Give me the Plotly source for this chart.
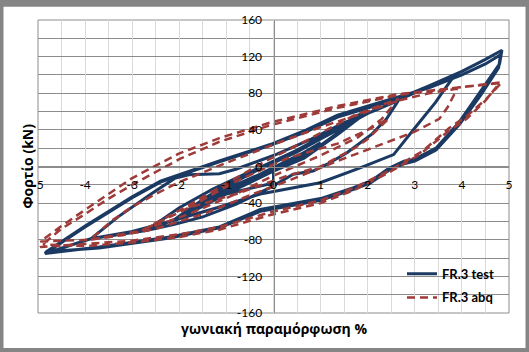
import plotly.graph_objects as go

# ---------------- data ----------------
# FR.3 test : successive cycles, each = up branch (neg peak -> pos peak) + down branch
test_start_x = [0.0, 0.0]
test_start_y = [-3, -18]

test_c1_x = [-1.0, -0.6, -0.2, 0.2, 0.6, 1.0, 0.6, 0.2, -0.2, -0.6, -1.0]
test_c1_y = [-30, -17, -6, 4, 14, 26, 12, 0, -10, -20, -30]

test_c2_x = [-2.08, -1.5, -1.0, -0.5, 0.0, 0.5, 1.0, 1.5, 2.0, 1.36, 0.65, 0.0, -0.8, -1.5, -2.08]
test_c2_y = [-59, -38, -22, -8, 4, 16, 30, 45, 60, 35, 9, -5, -23, -40, -59]

test_c2b_x = [-2.08, -1.5, -1.0, -0.5, 0.0, 0.5, 1.0, 1.5, 2.0, 1.4, 0.7, 0.0, -0.8, -1.5, -2.05]
test_c2b_y = [-57, -36, -20, -6, 6, 18, 32, 47, 62, 38, 12, -2, -20, -38, -57]

test_c3_x = [-2.7, -2.0, -1.3, -0.6, 0.0, 0.7, 1.36, 2.0, 2.65,
             2.4, 2.08, 1.56, 1.14, 0.84, 0.42, -0.07, -0.79, -1.5, -2.1, -2.7]
test_c3_y = [-70, -45, -25, -8, 5, 22, 40, 58, 72,
             52, 35, 15, 2.5, -5, -8.4, -23, -41, -55, -63, -70]

test_c4_x = [-3.88, -3.3, -2.6, -2.1, -1.8, -1.15, -0.8, 0.0, 0.8, 1.5, 2.2, 2.8, 3.4, 3.85,
             3.6, 3.44, 3.0, 2.55, 1.84, 0.99, -0.28, -1.2, -2.2, -3.0, -3.88]
test_c4_y = [-79, -55, -30, -13, -9, -8, -3, 12, 30, 48, 62, 76, 90, 100,
             82, 70, 42, 13, -1.5, -17.7, -30, -45, -60, -71, -79]

test_c5_x = [-4.85, -4.0, -3.0, -2.4, -2.0, -1.15, -0.07, 0.7, 1.36, 2.0, 2.65, 3.3, 4.0, 4.5, 4.85,
             4.8, 4.4, 3.95, 3.45, 3.0, 2.77, 2.45, 2.06, 1.7, 1.0, -0.28, -1.15, -2.2, -3.7, -4.85]
test_c5_y = [-95, -66, -34, -17, -10, 5, 23, 38, 54, 64, 74, 88, 104, 117, 127,
             112, 82, 49, 20, 8, 5.7, -2, -16, -23, -35, -47, -66, -77, -88, -95]

test_c5b_x = [-4.82, -4.0, -3.0, -2.4, -2.0, -1.15, -0.07, 0.7, 1.36, 2.0, 2.65, 3.3, 4.0, 4.5, 4.82,
              4.78, 4.4, 3.95, 3.45, 3.0, 2.77, 2.45, 2.06, 1.7, 1.0, -0.28, -1.15, -2.2, -3.7, -4.82]
test_c5b_y = [-93, -65, -33, -16, -9, 6, 24, 40, 56, 66, 76, 86, 100, 112, 122,
              108, 78, 46, 18, 6, 3, -4, -18, -25, -37, -49, -67, -78, -89, -93]

# FR.3 abq
abq_c2_x = [-1.8, -0.79, 0.29, 1.36, 2.0, 2.44, 2.0, 1.72, 1.0, 0.3, -0.79, -1.3, -1.8]
abq_c2_y = [-45, -16, 9, 25, 40, 52, 30, 20, 0, -10, -30, -38, -45]

abq_c3_x = [-2.8, -2.0, -1.15, -0.2, 0.65, 1.72, 2.65, 2.3, 1.8, 1.0, 0.0, -0.8, -1.8, -2.8]
abq_c3_y = [-70, -48, -23, 5, 27, 56, 74, 52, 32, 12, -10, -30, -52, -70]

abq_c4_x = [-3.9, -3.4, -3.0, -2.5, -2.0, -1.0, 0.0, 1.0, 2.0, 2.65, 3.3, 3.9,
            3.7, 3.52, 3.0, 2.44, 1.36, 0.29, -0.43, -1.5, -2.5, -3.2, -3.9]
abq_c4_y = [-80, -58, -44, -30, -17, 4, 24, 43, 60, 72, 80, 85,
            65, 52, 38, 27, 6, -16, -30, -52, -68, -75, -80]

abq_c5_x = [-4.95, -4.5, -4.02, -3.5, -3.01, -2.5, -2.01, -1.15, -0.07, 1.36, 2.65, 3.88, 4.85,
            4.52, 4.1, 3.73, 3.16, 2.44, 1.72, 1.0, -0.07, -1.15, -2.0, -3.0, -4.0, -4.95]
abq_c5_y = [-82, -65, -48, -30, -13, 1, 14, 31, 48, 66, 79, 86, 92,
            74, 55, 42, 16.5, -5, -23, -37, -50, -66, -74, -81, -85, -88]

abq_c5b_x = [-4.9, -4.5, -4.0, -3.5, -3.0, -2.5, -2.0, -1.15, -0.07, 1.36, 2.65, 3.88, 4.8,
             4.5, 4.1, 3.7, 3.1, 2.4, 1.7, 1.0, -0.07, -1.15, -2.0, -3.0, -4.0, -4.9]
abq_c5b_y = [-85, -68, -52, -35, -20, -6, 8, 27, 45, 64, 78, 86, 91,
             72, 52, 38, 13, -8, -26, -40, -53, -69, -77, -83, -87, -85]

x_ticks = [-5, -4, -3, -2, -1, 0, 1, 2, 3, 4, 5]
y_ticks = [-160, -120, -80, -40, 0, 40, 80, 120, 160]

series_names = ["FR.3 test", "FR.3 abq"]
# ----------------------------------------------------------------

test_x = test_start_x + test_c1_x + test_c2_x + test_c2b_x + test_c3_x + test_c4_x + test_c5_x + test_c5b_x
test_y = test_start_y + test_c1_y + test_c2_y + test_c2b_y + test_c3_y + test_c4_y + test_c5_y + test_c5b_y
abq_x = abq_c2_x + abq_c3_x + abq_c4_x + abq_c5_x + abq_c5b_x
abq_y = abq_c2_y + abq_c3_y + abq_c4_y + abq_c5_y + abq_c5b_y

BLUE = "#1B3A63"
RED = "#9E3B39"
FONT = "Lato"

fig = go.Figure()
fig.add_trace(go.Scatter(x=test_x, y=test_y, mode="lines", name=series_names[0],
                         line=dict(color=BLUE, width=3), legend="legend"))
fig.add_trace(go.Scatter(x=abq_x, y=abq_y, mode="lines", name=series_names[1],
                         line=dict(color=RED, width=2.5, dash="8px,5px"), legend="legend2"))

W, H = 529, 352
L, R, T, B = 38, 20, 17, 39
pw, ph = W - L - R, H - T - B

fig.update_layout(
    width=W, height=H,
    margin=dict(l=L, r=R, t=T, b=B),
    paper_bgcolor="white", plot_bgcolor="white",
    font=dict(family=FONT, size=12, color="black"),
    xaxis=dict(range=[-5, 5], tickmode="array", tickvals=x_ticks, ticktext=[str(v) for v in x_ticks],
               anchor="free", position=0.5, showline=True, linecolor="#8c8c8c", linewidth=1,
               showgrid=True, gridcolor="#d9d9d9", zeroline=False, ticks="",
               ticklabelstandoff=7,
               minor=dict(dtick=0.5, tick0=0, showgrid=True, gridcolor="#d9d9d9")),
    yaxis=dict(range=[-160, 160], tickmode="array", tickvals=y_ticks, ticktext=[str(v) for v in y_ticks],
               anchor="free", position=0.5, showline=True, linecolor="#8c8c8c", linewidth=1,
               showgrid=True, gridcolor="#8c8c8c", zeroline=False, ticks="",
               ticklabelstandoff=9,
               minor=dict(dtick=20, tick0=0, showgrid=True, gridcolor="#8c8c8c")),
    legend=dict(x=(402 - L) / pw, y=(H - B - 273.3) / ph, xanchor="left", yanchor="middle",
                bgcolor="rgba(0,0,0,0)", font=dict(family=FONT, size=13, weight="bold")),
    legend2=dict(x=(402 - L) / pw, y=(H - B - 297.3) / ph, xanchor="left", yanchor="middle",
                 bgcolor="rgba(0,0,0,0)", font=dict(family=FONT, size=13, weight="bold")),
    showlegend=True,
)

# plot-area border
fig.add_shape(type="rect", xref="paper", yref="paper", x0=0, x1=1, y0=0, y1=1,
              line=dict(color="#8c8c8c", width=1), layer="below")
# outer chart frame
fig.add_shape(type="rect", xref="paper", yref="paper",
              x0=-L / pw, x1=(pw + R) / pw, y0=-B / ph, y1=(ph + T) / ph,
              line=dict(color="#858585", width=7), layer="above")

# axis titles
fig.add_annotation(text="Φορτίο (kN)", xref="paper", yref="paper",
                   x=(27 - L) / pw, y=0.5, textangle=-90, showarrow=False,
                   xanchor="center", yanchor="middle",
                   font=dict(family="Open Sans", size=14, weight="bold", color="black"))
fig.add_annotation(text="γωνιακή παραμόρφωση %", xref="paper", yref="paper",
                   x=0.5, y=(H - B - 329) / ph, showarrow=False,
                   xanchor="center", yanchor="middle",
                   font=dict(family="Open Sans", size=14, weight="bold", color="black"))

fig.write_html("out.html")
